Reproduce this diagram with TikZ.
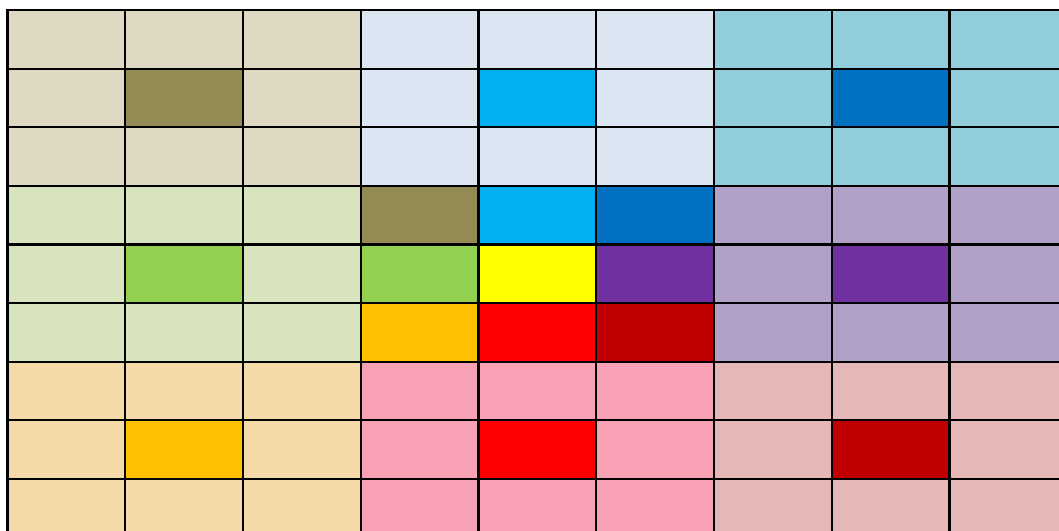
\documentclass[tikz,border=0pt]{standalone}
\usepackage{xcolor}
\definecolor{tanlt}{HTML}{DFD9C3}
\definecolor{olivex}{HTML}{948A54}
\definecolor{bluelt}{HTML}{DCE6F2}
\definecolor{cyanx}{HTML}{00B0F0}
\definecolor{teallt}{HTML}{92CDDC}
\definecolor{bluedk}{HTML}{0070C0}
\definecolor{greenlt}{HTML}{D8E4BD}
\definecolor{greenx}{HTML}{92D050}
\definecolor{yellowx}{HTML}{FFFF00}
\definecolor{purplelt}{HTML}{B2A1C7}
\definecolor{purplex}{HTML}{7030A0}
\definecolor{orangelt}{HTML}{F5D9A8}
\definecolor{orangex}{HTML}{FFC000}
\definecolor{pinklt}{HTML}{FAA2B5}
\definecolor{redx}{HTML}{FF0000}
\definecolor{rosylt}{HTML}{E5B7B7}
\definecolor{reddk}{HTML}{C00000}

\begin{document}
\begin{tikzpicture}[
    x=117.75pt, y=-58.6pt,
    gridline/.style={line width=2.2pt, black},
]

\useasboundingbox (0pt,0pt) rectangle (1059pt,-530pt);
\clip (0pt,0pt) rectangle (1059pt,-530pt);

\begin{scope}[shift={(7.5pt,-10pt)}]
% ---- outer blocks: light fill, dark centre ----
\foreach \bc/\br/\light/\dark in {0/0/tanlt/olivex, 1/0/bluelt/cyanx, 2/0/teallt/bluedk,
    0/1/greenlt/greenx, 2/1/purplelt/purplex,
    0/2/orangelt/orangex, 1/2/pinklt/redx, 2/2/rosylt/reddk}{
  \fill[\light] (3*\bc,3*\br) rectangle ++(3,3);
  \fill[\dark] (3*\bc+1,3*\br+1) rectangle ++(1,1);
}

% ---- centre block ----
\foreach \c/\r/\col in {3/3/olivex, 4/3/cyanx, 5/3/bluedk,
    3/4/greenx, 4/4/yellowx, 5/4/purplex,
    3/5/orangex, 4/5/redx, 5/5/reddk}
  \fill[\col] (\c,\r) rectangle ++(1,1);

% ---- grid ----
\foreach \i in {1,...,8}{
  \draw[gridline] (\i,0) -- (\i,9);
  \draw[gridline] (0,\i) -- (9,\i);
}
\draw[gridline] (0,0) rectangle (9,9);
\end{scope}

\end{tikzpicture}
\end{document}
